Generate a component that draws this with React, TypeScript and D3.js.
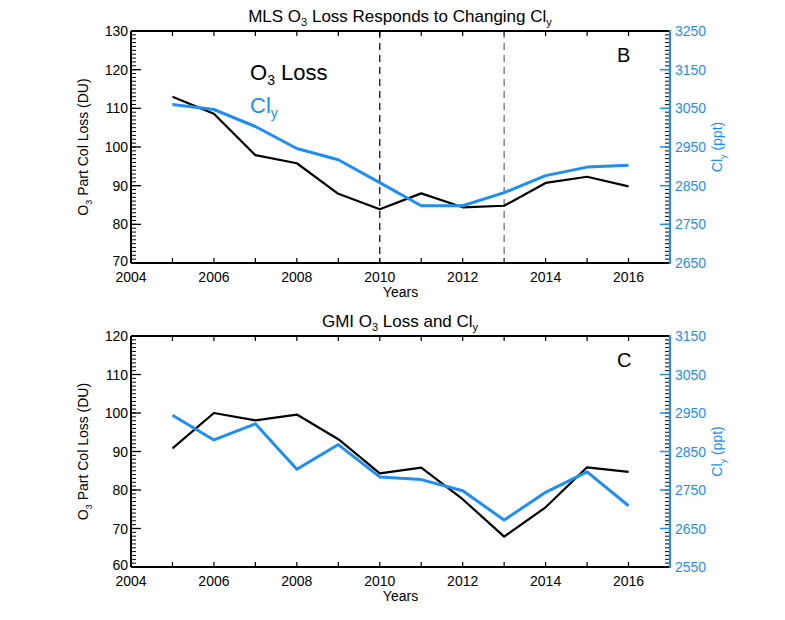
import React from "react";
import * as d3 from "d3";

const years = [2005, 2006, 2007, 2008, 2009, 2010, 2011, 2012, 2013, 2014, 2015, 2016];
const mlsO3Loss = [113.0, 108.6, 97.9, 95.8, 87.9, 83.9, 88.0, 84.4, 84.8, 90.7, 92.3, 89.8];
const mlsCly = [3060, 3047, 3003, 2946, 2917, 2858, 2798, 2798, 2832, 2876, 2898, 2903];
const gmiO3Loss = [90.8, 100.0, 98.1, 99.6, 93.2, 84.3, 85.8, 77.6, 67.9, 75.5, 85.9, 84.7];
const gmiCly = [2944, 2880, 2922, 2804, 2868, 2784, 2777, 2748, 2672, 2744, 2797, 2709];
const xTickLabels = [2004, 2006, 2008, 2010, 2012, 2014, 2016];
const dashedYears = [2010, 2013];

const BLUE = "#1f8ef1";
const FONT = "Liberation Sans, Arial, Helvetica, sans-serif";

type PanelProps = {
  top: number;
  bottom: number;
  leftDomain: [number, number];
  rightDomain: [number, number];
  o3: number[];
  cly: number[];
  letter: string;
  title: React.ReactNode;
  showLegend: boolean;
  showDashed: boolean;
};

const X0 = 131;
const X1 = 670;

function Panel(p: PanelProps) {
  const x = d3.scaleLinear().domain([2004, 2017]).range([X0, X1]);
  const yl = d3.scaleLinear().domain(p.leftDomain).range([p.bottom, p.top]);
  const yr = d3.scaleLinear().domain(p.rightDomain).range([p.bottom, p.top]);
  const lineL = d3.line<number>().x((_, i) => x(years[i])).y((d) => yl(d));
  const lineR = d3.line<number>().x((_, i) => x(years[i])).y((d) => yr(d));
  const leftMinor = d3.range(p.leftDomain[0], p.leftDomain[1] + 0.001, 1);
  const leftMajor = d3.range(p.leftDomain[0], p.leftDomain[1] + 0.001, 10);
  const rightMinor = d3.range(p.rightDomain[0], p.rightDomain[1] + 0.001, 10);
  const rightMajor = d3.range(p.rightDomain[0], p.rightDomain[1] + 0.001, 100);
  const yearTicks = d3.range(2005, 2017, 1);
  const midY = (p.top + p.bottom) / 2;
  return (
    <g fontFamily={FONT}>
      <text x={400} y={p.top - 9} textAnchor="middle" fontSize={17} fill="#000">{p.title}</text>
      {leftMinor.map((v) => (
        <line key={"lm" + v} x1={X0} x2={X0 + 5} y1={yl(v)} y2={yl(v)} stroke="#000" strokeWidth={1} />
      ))}
      {leftMajor.map((v) => (
        <line key={"lM" + v} x1={X0} x2={X0 + 10} y1={yl(v)} y2={yl(v)} stroke="#000" strokeWidth={1.3} />
      ))}
      {leftMajor.map((v, i) => (
        <text key={"lt" + v} x={X0 - 3} y={yl(v) + (i === 0 ? 3 : 5)} textAnchor="end" fontSize={14} fill="#000">{v}</text>
      ))}
      {rightMinor.map((v) => (
        <line key={"rm" + v} x1={X1 - 5} x2={X1} y1={yr(v)} y2={yr(v)} stroke="#000" strokeWidth={1} />
      ))}
      {rightMajor.map((v) => (
        <line key={"rM" + v} x1={X1 - 10} x2={X1} y1={yr(v)} y2={yr(v)} stroke={BLUE} strokeWidth={1.5} />
      ))}
      {rightMajor.map((v) => (
        <text key={"rt" + v} x={X1 + 5} y={yr(v) + 5} textAnchor="start" fontSize={14} fill={BLUE}>{v}</text>
      ))}
      {yearTicks.map((yr0) => (
        <g key={"xt" + yr0}>
          <line x1={x(yr0)} x2={x(yr0)} y1={p.bottom} y2={p.bottom - 5} stroke="#000" strokeWidth={1.2} />
          <line x1={x(yr0)} x2={x(yr0)} y1={p.top} y2={p.top + 5} stroke="#000" strokeWidth={1.2} />
        </g>
      ))}
      {xTickLabels.map((v) => (
        <text key={"xl" + v} x={x(v)} y={p.bottom + 19} textAnchor="middle" fontSize={14} fill="#000">{v}</text>
      ))}
      <text x={x(2010.5)} y={p.bottom + 34} textAnchor="middle" fontSize={14} fill="#000">Years</text>
      {p.showDashed && dashedYears.map((v, i) => (
        <line key={"d" + v} x1={x(v)} x2={x(v)} y1={p.top} y2={p.bottom} stroke={i === 0 ? "#000" : "#666"} strokeWidth={1.2} strokeDasharray="7,5" />
      ))}
      <line x1={X0} x2={X1} y1={p.top} y2={p.top} stroke="#000" strokeWidth={2} />
      <line x1={X0} x2={X1} y1={p.bottom} y2={p.bottom} stroke="#000" strokeWidth={2} />
      <line x1={X0} x2={X0} y1={p.top} y2={p.bottom} stroke="#000" strokeWidth={2} />
      <line x1={X1} x2={X1} y1={p.top - 1} y2={p.bottom + 1} stroke={BLUE} strokeWidth={2.2} />
      <path d={lineL(p.o3) || ""} fill="none" stroke="#000" strokeWidth={2.2} strokeLinejoin="round" />
      <path d={lineR(p.cly) || ""} fill="none" stroke={BLUE} strokeWidth={3} strokeLinejoin="round" />
      <text transform={`translate(${X0 - 43},${midY}) rotate(-90)`} textAnchor="middle" fontSize={14} fill="#000">
        O<tspan fontSize={9} dy={4}>3</tspan><tspan dy={-4}> Part Col Loss (DU)</tspan>
      </text>
      <text transform={`translate(${X1 + 52},${midY}) rotate(-90)`} textAnchor="middle" fontSize={14} fill={BLUE}>
        Cl<tspan fontSize={9} dy={4}>y</tspan><tspan dy={-4}> (ppt)</tspan>
      </text>
      <text x={617} y={p.top + 31} fontSize={20} fill="#000">{p.letter}</text>
      {p.showLegend && (
        <g>
          <text x={250} y={p.top + 49} fontSize={22} fill="#000">
            O<tspan fontSize={14} dy={5}>3</tspan><tspan dy={-5}> Loss</tspan>
          </text>
          <text x={250} y={p.top + 82} fontSize={22} fill={BLUE}>
            Cl<tspan fontSize={14} dy={5}>y</tspan>
          </text>
        </g>
      )}
    </g>
  );
}

export default function App() {
  return (
    <svg width={785} height={620} style={{ position: "absolute", left: 0, top: 0, background: "#fff" }}>
      <rect width={785} height={620} fill="#fff" />
      <Panel
        top={31}
        bottom={263}
        leftDomain={[70, 130]}
        rightDomain={[2650, 3250]}
        o3={mlsO3Loss}
        cly={mlsCly}
        letter="B"
        showLegend={true}
        showDashed={true}
        title={<>MLS O<tspan fontSize={11} dy={4}>3</tspan><tspan dy={-4}> Loss Responds to Changing Cl</tspan><tspan fontSize={11} dy={4}>y</tspan></>}
      />
      <Panel
        top={336}
        bottom={567}
        leftDomain={[60, 120]}
        rightDomain={[2550, 3150]}
        o3={gmiO3Loss}
        cly={gmiCly}
        letter="C"
        showLegend={false}
        showDashed={false}
        title={<>GMI O<tspan fontSize={11} dy={4}>3</tspan><tspan dy={-4}> Loss and Cl</tspan><tspan fontSize={11} dy={4}>y</tspan></>}
      />
    </svg>
  );
}
